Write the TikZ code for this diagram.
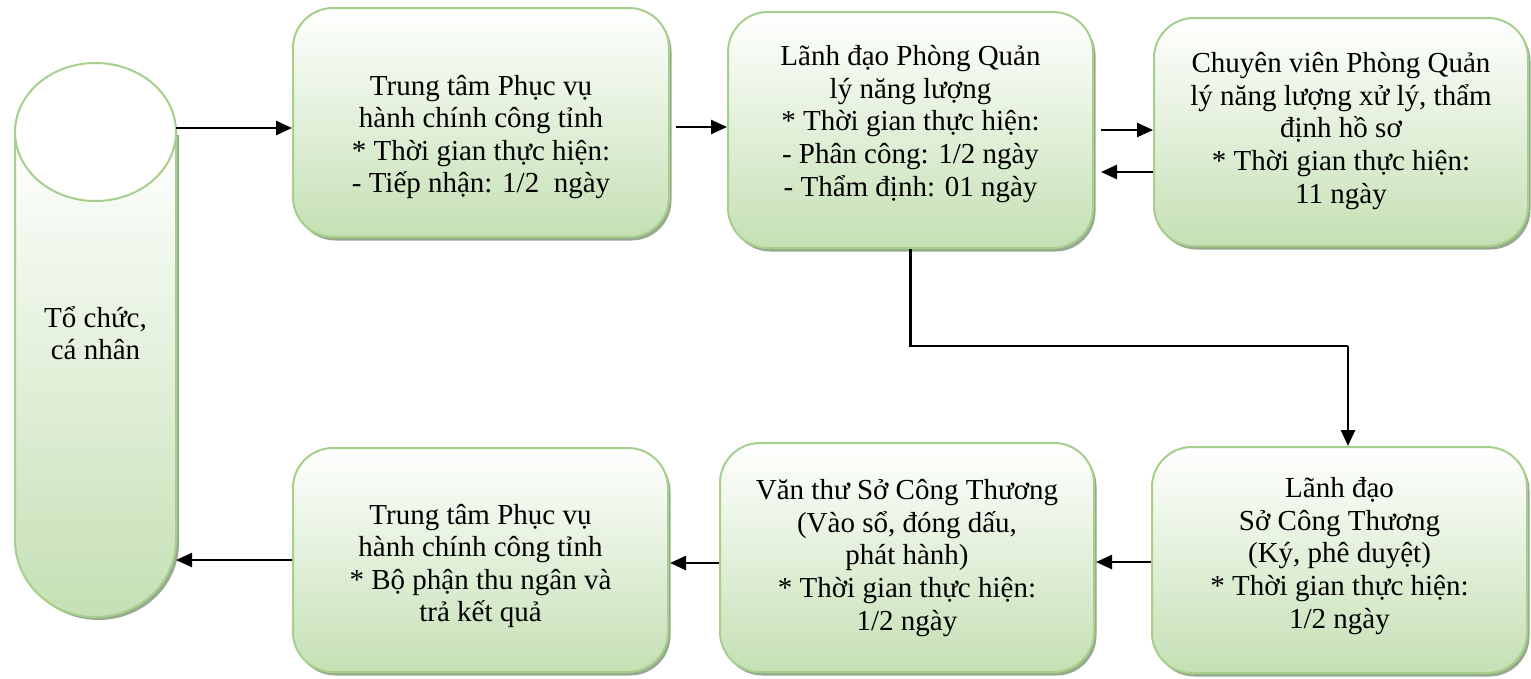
\documentclass[tikz,border=0pt]{standalone}
\usepackage{fontspec}
\setmainfont{Liberation Serif}
\usetikzlibrary{shadows,arrows.meta,shapes.geometric}
\definecolor{gline}{RGB}{166,207,140}
\definecolor{gfill}{RGB}{197,224,180}
\definecolor{gshadow}{RGB}{140,160,130}
\tikzset{
  box/.style={draw=gline, line width=2pt, rounded corners=40pt, top color=white, bottom color=gfill,
    drop shadow={shadow xshift=2.5pt, shadow yshift=-3.5pt, fill=gshadow, opacity=0.9}},
  txt/.style={align=center, font=\fontsize{29}{32.6}\selectfont, inner sep=0pt},
  arr/.style={line width=2.5pt, -{Triangle[length=16pt,width=14pt]}},
  ln/.style={line width=2.5pt}
}
\begin{document}
\begin{tikzpicture}[x=1pt,y=-1pt]
\useasboundingbox (0,0) rectangle (1531,678);
% cylinder
\fill[gshadow,opacity=0.9] (18,135) -- (18,543) arc[start angle=180,end angle=0,x radius=80.5,y radius=77] -- (179,135) -- cycle;
\path[draw=gline, line width=2pt, top color=white, bottom color=gfill]
  (15,132) -- (15,540) arc[start angle=180,end angle=0,x radius=80.5,y radius=77] -- (176,132) -- cycle;
\node[draw=gline, line width=2pt, fill=white, ellipse, minimum width=161pt, minimum height=138pt, inner sep=0pt] (cyl) at (95.5,132) {};
\coordinate (cylR1) at (176,128);
\coordinate (cylR2) at (176,560);
\node[txt] (cyltxt) at (95.5,333) {Tổ chức,\\cá nhân};
% boxes
\node[box, minimum width=376pt, minimum height=229pt] (b1) at (481,122.5) {};
\node[txt] (t1) at (481,137) {Trung tâm Phục vụ\\hành chính công tỉnh\\* Thời gian thực hiện:\\- Tiếp nhận: 1/2~~ngày};
\node[box, minimum width=365pt, minimum height=236pt] (b2) at (910.5,130) {};
\node[txt] (t2) at (910.5,124) {Lãnh đạo Phòng Quản\\lý năng lượng\\* Thời gian thực hiện:\\- Phân công: 1/2 ngày\\- Thẩm định: 01 ngày};
\node[box, minimum width=374pt, minimum height=228pt] (b3) at (1341,132) {};
\node[txt] (t3) at (1341,131) {Chuyên viên Phòng Quản\\lý năng lượng xử lý, thẩm\\định hồ sơ\\* Thời gian thực hiện:\\11 ngày};
\node[box, minimum width=375pt, minimum height=224pt] (b4) at (480.5,560) {};
\node[txt] (t4) at (480.5,566) {Trung tâm Phục vụ\\hành chính công tỉnh\\* Bộ phận thu ngân và\\trả kết quả};
\node[box, minimum width=374pt, minimum height=229pt] (b5) at (907,557.5) {};
\node[txt] (t5) at (907,558) {Văn thư Sở Công Thương\\(Vào sổ, đóng dấu,\\phát hành)\\* Thời gian thực hiện:\\1/2 ngày};
\node[box, minimum width=375pt, minimum height=226pt] (b6) at (1339.5,560) {};
\node[txt] (t6) at (1339.5,556) {Lãnh đạo\\Sở Công Thương\\(Ký, phê duyệt)\\* Thời gian thực hiện:\\1/2 ngày};
% connectors
\draw[arr] (cylR1) -- (b1.west |- cylR1);
\coordinate (a12s) at (676,127);
\draw[arr] (a12s) -- (b2.west |- a12s);
\coordinate (a23s) at (1101,130);
\draw[arr] (a23s) -- (b3.west |- a23s);
\coordinate (a32e) at (1101,172);
\draw[arr] (b3.west |- a32e) -- (a32e);
\coordinate (bend1) at (910.5,346);
\coordinate (bend2) at (1348,346);
\draw[ln] (b2.south) -- (bend1) -- (bend2);
\draw[arr] (bend2) -- (b6.north -| bend2);
\coordinate (a65e) at (1096,562);
\draw[arr] (b6.west |- a65e) -- (a65e);
\coordinate (a54e) at (670,563);
\draw[arr] (b5.west |- a54e) -- (a54e);
\draw[arr] (b4.west |- cylR2) -- (cylR2);
\end{tikzpicture}
\end{document}
